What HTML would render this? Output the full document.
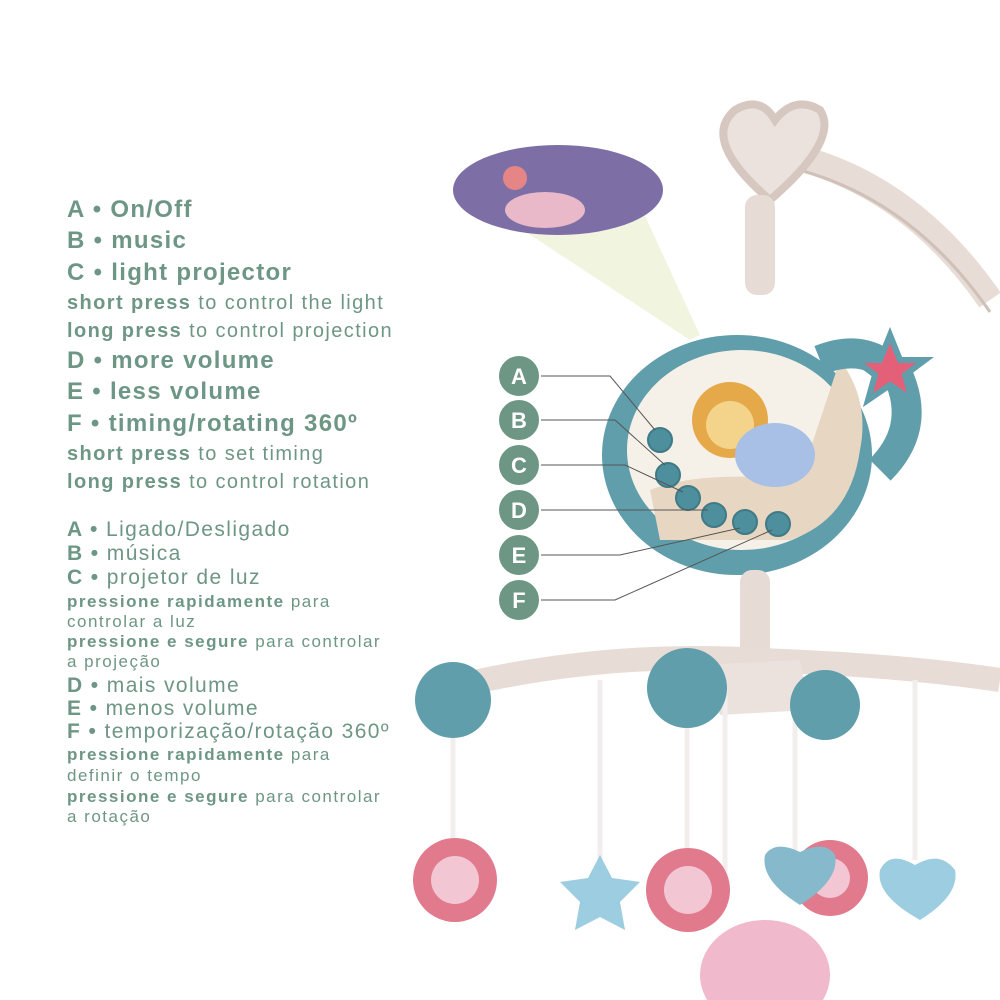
<!DOCTYPE html>
<html><head><meta charset="utf-8"><style>
html,body{margin:0;padding:0;background:#fff;}
#c{position:relative;width:1000px;height:1000px;overflow:hidden;font-family:"Liberation Sans",sans-serif;color:#6e9685;}
.t{position:absolute;left:67px;white-space:nowrap;line-height:1;}
.h{font-weight:bold;font-size:24px;letter-spacing:1.3px;}
.r{font-size:20px;letter-spacing:1.4px;}
.h2{font-size:21px;letter-spacing:1.4px;}
.s{font-size:17px;letter-spacing:1.5px;}
b{font-weight:bold;}
svg{position:absolute;left:0;top:0;}
</style></head><body><div id="c">
<svg width="1000" height="1000" viewBox="0 0 1000 1000">
<path d="M760 150 Q900 170 990 300" stroke="#e8dcd6" stroke-width="26" fill="none"/>
<path d="M760 150 Q900 170 990 300" stroke="#cfc0b8" stroke-width="3" fill="none" transform="translate(0,12)"/>
<path d="M770 200 Q700 140 735 110 Q760 95 775 120 Q795 95 820 110 Q840 140 770 200 Z" fill="#ece2dd" stroke="#d6c8c0" stroke-width="8"/>
<rect x="745" y="195" width="30" height="100" rx="12" fill="#e6dbd5"/>
<polygon points="500,215 640,205 700,335 690,340" fill="#eef3d8" opacity="0.8"/>
<ellipse cx="558" cy="190" rx="105" ry="45" fill="#7d6fa6"/>
<ellipse cx="545" cy="210" rx="40" ry="18" fill="#e9b9c9"/>
<circle cx="515" cy="178" r="12" fill="#e58585"/>
<ellipse cx="737" cy="455" rx="135" ry="120" fill="#5f9eaa"/>
<ellipse cx="742" cy="450" rx="115" ry="100" fill="#f6f1e8"/>
<path d="M840 360 Q870 400 860 450 Q850 520 790 540 L660 540 L650 490 Q700 470 800 480 Z" fill="#e7d7c2"/>
<path d="M820 360 Q870 340 900 380 Q920 430 880 470" stroke="#5f9eaa" stroke-width="30" fill="none"/>
<polygon points="890,335 900,360 925,360 905,375 912,400 890,385 868,400 875,375 855,360 880,360" fill="#e46078" stroke="#5f9eaa" stroke-width="6"/>
<circle cx="730" cy="420" r="38" fill="#e5a94a"/>
<circle cx="730" cy="425" r="24" fill="#f3d48a"/>
<ellipse cx="775" cy="455" rx="40" ry="32" fill="#a8bfe6"/>
<rect x="740" y="570" width="30" height="90" rx="12" fill="#e6dbd5"/>
<g fill="#4d8f9d" stroke="#3f7a86" stroke-width="2">
<circle cx="660" cy="440" r="12"/><circle cx="668" cy="475" r="12"/><circle cx="688" cy="498" r="12"/>
<circle cx="714" cy="515" r="12"/><circle cx="745" cy="522" r="12"/><circle cx="778" cy="524" r="12"/>
</g>
<g stroke="#555" stroke-width="1" fill="none">
<path d="M539 376 L610 376 L655 430"/>
<path d="M539 420 L615 420 L665 465"/>
<path d="M539 465 L625 465 L683 492"/>
<path d="M539 510 L708 510"/>
<path d="M539 555 L620 555 L740 528"/>
<path d="M539 600 L615 600 L772 530"/>
</g>
<g fill="#6e9685" stroke="#fff" stroke-width="2">
<circle cx="519" cy="376" r="21"/><circle cx="519" cy="420" r="21"/><circle cx="519" cy="465" r="21"/>
<circle cx="519" cy="510" r="21"/><circle cx="519" cy="555" r="21"/><circle cx="519" cy="600" r="21"/>
</g>
<g fill="#fff" font-family="Liberation Sans,sans-serif" font-weight="bold" font-size="22" text-anchor="middle">
<text x="519" y="384">A</text><text x="519" y="428">B</text><text x="519" y="473">C</text>
<text x="519" y="518">D</text><text x="519" y="563">E</text><text x="519" y="608">F</text>
</g>
<path d="M440 690 Q600 650 760 660 Q900 665 1000 680" stroke="#e8dcd6" stroke-width="24" fill="none"/>
<path d="M700 665 L800 660 L810 710 L720 715 Z" fill="#ece2dd"/>
<g stroke="#f2eeee" stroke-width="5">
<line x1="453" y1="720" x2="453" y2="860"/><line x1="600" y1="680" x2="600" y2="870"/>
<line x1="687" y1="700" x2="687" y2="860"/><line x1="725" y1="690" x2="725" y2="880"/>
<line x1="795" y1="690" x2="795" y2="850"/><line x1="915" y1="680" x2="915" y2="860"/>
</g>
<g fill="#5f9eaa"><circle cx="453" cy="700" r="38"/><circle cx="687" cy="688" r="40"/><circle cx="825" cy="705" r="35"/></g>
<g fill="#e07a8c"><circle cx="455" cy="880" r="42"/><circle cx="688" cy="890" r="42"/><circle cx="830" cy="878" r="38"/></g>
<g fill="#f3c6d4"><circle cx="455" cy="880" r="24"/><circle cx="688" cy="890" r="24"/><circle cx="830" cy="878" r="20"/></g>
<ellipse cx="765" cy="975" rx="65" ry="55" fill="#f0b9cc"/>
<polygon points="600,855 612,878 640,882 620,902 625,930 600,917 575,930 580,902 560,882 588,878" fill="#9ccde0"/>
<path d="M920 920 Q875 895 880 870 Q890 850 915 865 Q940 850 955 870 Q960 895 920 920Z" fill="#9ccde0"/>
<path d="M800 905 Q760 880 765 855 Q775 840 800 852 Q825 840 835 855 Q840 880 800 905Z" fill="#86b9cc"/>
</svg>
<div class="t h" style="top:198px">A • On/Off</div>
<div class="t h" style="top:229px">B • music</div>
<div class="t h" style="top:261px">C • light projector</div>
<div class="t r" style="top:293px"><b>short press</b> to control the light</div>
<div class="t r" style="top:321px"><b>long press</b> to control projection</div>
<div class="t h" style="top:349px">D • more volume</div>
<div class="t h" style="top:380px">E • less volume</div>
<div class="t h" style="top:412px">F • timing/rotating 360º</div>
<div class="t r" style="top:444px"><b>short press</b> to set timing</div>
<div class="t r" style="top:472px"><b>long press</b> to control rotation</div>

<div class="t h2" style="top:519px"><b>A •</b> Ligado/Desligado</div>
<div class="t h2" style="top:543px"><b>B •</b> música</div>
<div class="t h2" style="top:567px"><b>C •</b> projetor de luz</div>
<div class="t s" style="top:593px"><b>pressione rapidamente</b> para</div>
<div class="t s" style="top:613px">controlar a luz</div>
<div class="t s" style="top:633px"><b>pressione e segure</b> para controlar</div>
<div class="t s" style="top:653px">a projeção</div>
<div class="t h2" style="top:675px"><b>D •</b> mais volume</div>
<div class="t h2" style="top:698px"><b>E •</b> menos volume</div>
<div class="t h2" style="top:721px"><b>F •</b> temporização/rotação 360º</div>
<div class="t s" style="top:746px"><b>pressione rapidamente</b> para</div>
<div class="t s" style="top:767px">definir o tempo</div>
<div class="t s" style="top:788px"><b>pressione e segure</b> para controlar</div>
<div class="t s" style="top:808px">a rotação</div>
</div></body></html>
